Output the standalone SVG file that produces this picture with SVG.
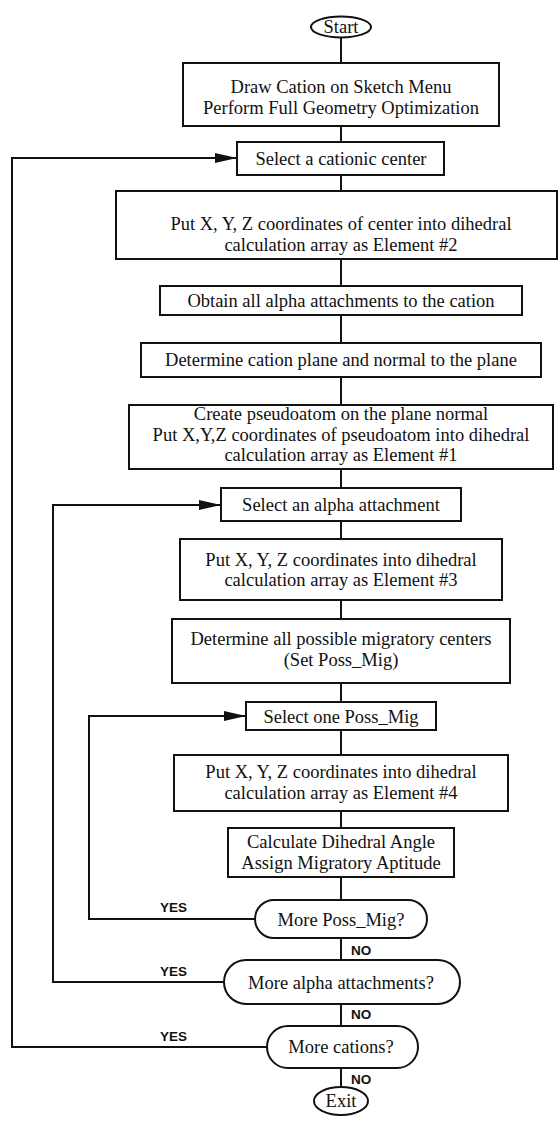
<svg xmlns="http://www.w3.org/2000/svg" width="560" height="1127" viewBox="0 0 560 1127">
  <style>
    .box { fill: #fff; stroke: #111; stroke-width: 2; }
    .t { font-family: "Liberation Serif", "Times New Roman", serif; font-size: 18.5px; text-anchor: middle; fill: #111; }
    .lbl { font-family: "Liberation Sans", Arial, sans-serif; font-weight: bold; font-size: 13.5px; fill: #111; }
    .wire { stroke: #111; stroke-width: 2; fill: none; }
  </style>
  <defs>
    <marker id="arrow" markerUnits="userSpaceOnUse" markerWidth="22" markerHeight="10" refX="22" refY="5" orient="auto">
      <path d="M0,0 L22,5 L0,10 z" fill="#111"/>
    </marker>
  </defs>

  <!-- connectors -->
  <g id="connectors">
    <!-- main spine -->
    <line class="wire" x1="341" y1="37" x2="341" y2="63"/>
    <line class="wire" x1="341" y1="126" x2="341" y2="142"/>
    <line class="wire" x1="341" y1="175" x2="341" y2="191"/>
    <line class="wire" x1="341" y1="259" x2="341" y2="286"/>
    <line class="wire" x1="341" y1="315" x2="341" y2="343"/>
    <line class="wire" x1="341" y1="377" x2="341" y2="405"/>
    <line class="wire" x1="341" y1="469" x2="341" y2="488"/>
    <line class="wire" x1="341" y1="521" x2="341" y2="539"/>
    <line class="wire" x1="341" y1="600" x2="341" y2="619"/>
    <line class="wire" x1="341" y1="683" x2="341" y2="702"/>
    <line class="wire" x1="341" y1="730" x2="341" y2="755"/>
    <line class="wire" x1="341" y1="811" x2="341" y2="828"/>
    <line class="wire" x1="341" y1="877" x2="341" y2="900"/>
    <line class="wire" x1="341" y1="938" x2="341" y2="960"/>
    <line class="wire" x1="341" y1="1004" x2="341" y2="1026"/>
    <line class="wire" x1="341" y1="1068" x2="341" y2="1087"/>
    <!-- YES loops back to the three selection steps -->
    <polyline class="wire" points="255,919 89,919 89,716 246,716" marker-end="url(#arrow)"/>
    <polyline class="wire" points="224,982 53,982 53,505 221,505" marker-end="url(#arrow)"/>
    <polyline class="wire" points="267,1047 12,1047 12,158 237,158" marker-end="url(#arrow)"/>
    <!-- branch labels -->
    <text class="lbl" x="160" y="912">YES</text>
    <text class="lbl" x="160" y="976">YES</text>
    <text class="lbl" x="160" y="1041">YES</text>
    <text class="lbl" x="351" y="955">NO</text>
    <text class="lbl" x="351" y="1019">NO</text>
    <text class="lbl" x="351" y="1084">NO</text>
  </g>

  <g id="start">
    <ellipse class="box" cx="341" cy="27" rx="30" ry="10.5"/>
    <text class="t" x="341" y="33">Start</text>
  </g>

  <g id="draw-cation">
    <rect class="box" x="183" y="63" width="316" height="63"/>
    <text class="t" x="341" y="93">Draw Cation on Sketch Menu</text>
    <text class="t" x="341" y="113.5">Perform Full Geometry Optimization</text>
  </g>

  <g id="select-center">
    <rect class="box" x="237" y="142" width="207" height="33"/>
    <text class="t" x="341" y="165">Select a cationic center</text>
  </g>

  <g id="center-element2">
    <rect class="box" x="116" y="191" width="441" height="68"/>
    <text class="t" x="341" y="230">Put X, Y, Z coordinates of center into dihedral</text>
    <text class="t" x="341" y="250.5">calculation array as Element #2</text>
  </g>

  <g id="obtain-alpha">
    <rect class="box" x="160" y="286" width="362" height="29"/>
    <text class="t" x="341" y="307">Obtain all alpha attachments to the cation</text>
  </g>

  <g id="cation-plane">
    <rect class="box" x="141" y="343" width="400" height="34"/>
    <text class="t" x="341" y="366">Determine cation plane and normal to the plane</text>
  </g>

  <g id="pseudoatom">
    <rect class="box" x="129" y="405" width="424" height="64"/>
    <text class="t" x="341" y="420">Create pseudoatom on the plane normal</text>
    <text class="t" x="341" y="440.5">Put X,Y,Z coordinates of pseudoatom into dihedral</text>
    <text class="t" x="341" y="461">calculation array as Element #1</text>
  </g>

  <g id="select-alpha">
    <rect class="box" x="221" y="488" width="240" height="33"/>
    <text class="t" x="341" y="511">Select an alpha attachment</text>
  </g>

  <g id="alpha-element3">
    <rect class="box" x="180" y="539" width="322" height="61"/>
    <text class="t" x="341" y="565.5">Put X, Y, Z coordinates into dihedral</text>
    <text class="t" x="341" y="586">calculation array as Element #3</text>
  </g>

  <g id="poss-mig-set">
    <rect class="box" x="172" y="619" width="338" height="64"/>
    <text class="t" x="341" y="645">Determine all possible migratory centers</text>
    <text class="t" x="341" y="665.5">(Set Poss_Mig)</text>
  </g>

  <g id="select-poss-mig">
    <rect class="box" x="246" y="702" width="190" height="28"/>
    <text class="t" x="341" y="722.5">Select one Poss_Mig</text>
  </g>

  <g id="mig-element4">
    <rect class="box" x="174" y="755" width="334" height="56"/>
    <text class="t" x="341" y="778">Put X, Y, Z coordinates into dihedral</text>
    <text class="t" x="341" y="798.5">calculation array as Element #4</text>
  </g>

  <g id="dihedral-angle">
    <rect class="box" x="228" y="828" width="226" height="49"/>
    <text class="t" x="341" y="848">Calculate Dihedral Angle</text>
    <text class="t" x="341" y="868.5">Assign Migratory Aptitude</text>
  </g>

  <g id="more-poss-mig">
    <rect class="box" x="255" y="900" width="172" height="38" rx="19" ry="19"/>
    <text class="t" x="341" y="925.5">More Poss_Mig?</text>
  </g>

  <g id="more-alpha">
    <rect class="box" x="224" y="960" width="236" height="44" rx="22" ry="22"/>
    <text class="t" x="341" y="988.5">More alpha attachments?</text>
  </g>

  <g id="more-cations">
    <rect class="box" x="267" y="1026" width="151" height="42" rx="21" ry="21"/>
    <text class="t" x="341" y="1053">More cations?</text>
  </g>

  <g id="exit">
    <ellipse class="box" cx="341" cy="1101" rx="27" ry="14"/>
    <text class="t" x="341" y="1107">Exit</text>
  </g>
</svg>
